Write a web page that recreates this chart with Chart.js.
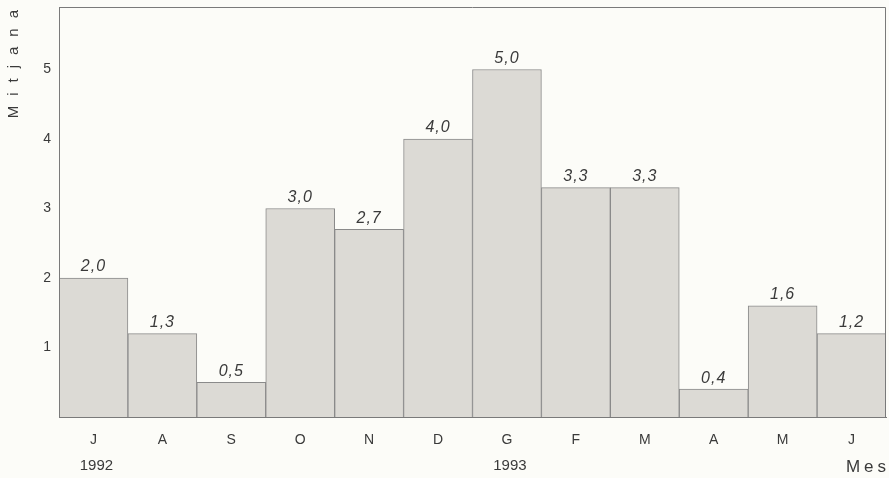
<!DOCTYPE html>
<html><head><meta charset="utf-8">
<script src="https://cdn.jsdelivr.net/npm/chart.js@4/dist/chart.umd.min.js"></script>
<style>html,body{margin:0;padding:0;background:#fcfcf8;}#wrap{width:889px;height:478px;}</style>
</head><body><div id="wrap"><canvas id="c" width="889" height="478"></canvas></div>
<script>
const months = ["J","A","S","O","N","D","G","F","M","A","M","J"];
const years = ["1992","","","","","","1993","","","","",""];
const values = [2.0,1.2,0.5,3.0,2.7,4.0,5.0,3.3,3.3,0.4,1.6,1.2];
const valueLabels = ["2,0","1,3","0,5","3,0","2,7","4,0","5,0","3,3","3,3","0,4","1,6","1,2"];
const yTicks = [1,2,3,4,5];
const yTitle = "Mitjana";
const xTitle = "Mes";

const ink = '#3a3a3a';
const FAM = '"Liberation Sans", Arial, sans-serif';
const extras = {
  id:'extras',
  afterDatasetsDraw(chart){
    const ctx = chart.ctx, a = chart.chartArea;
    const meta = chart.getDatasetMeta(0);
    ctx.save();
    ctx.strokeStyle = '#7a7a7a'; ctx.lineWidth = 1;
    ctx.beginPath();
    ctx.moveTo(a.left+0.5, a.bottom); ctx.lineTo(a.left+0.5, a.top+0.5);
    ctx.lineTo(a.right-0.5, a.top+0.5); ctx.lineTo(a.right-0.5, a.bottom);
    ctx.stroke();
    ctx.fillStyle = ink;
    ctx.font = 'italic 16px ' + FAM;
    ctx.letterSpacing = '1px';
    ctx.textAlign = 'center'; ctx.textBaseline = 'bottom';
    meta.data.forEach((bar,i)=>{ ctx.fillText(valueLabels[i], bar.x, bar.y-3); });
    const xs = chart.scales.x;
    ctx.font = '15px ' + FAM;
    ctx.letterSpacing = '0px';
    ctx.textBaseline = 'middle';
    years.forEach((yr,i)=>{ if(yr) ctx.fillText(yr, xs.getPixelForValue(i) + 3, 466); });
    ctx.font = '17px ' + FAM;
    ctx.letterSpacing = '4px';
    ctx.textAlign = 'right';
    ctx.fillText(xTitle, a.right+4, 467);
    // y title, rotated
    ctx.translate(14, a.top + 3);
    ctx.rotate(-Math.PI/2);
    ctx.font = '15px ' + FAM;
    ctx.letterSpacing = '10px';
    ctx.textAlign = 'right';
    ctx.textBaseline = 'middle';
    ctx.fillText(yTitle, 10, 0);
    ctx.restore();
  }
};

new Chart(document.getElementById('c'), {
  type:'bar',
  data:{ labels: months, datasets:[{ data: values, backgroundColor:'#dcdad5', borderColor:'#8a8a8a', borderWidth:1, categoryPercentage:1, barPercentage:1 }]},
  options:{
    responsive:false, animation:false,
    layout:{ padding:{ top:7, right:3, left:0, bottom:0 } },
    plugins:{ legend:{display:false}, tooltip:{enabled:false} },
    scales:{
      x:{ grid:{display:false}, border:{color:'#7a7a7a'},
          ticks:{ color:ink, font:{size:14, family:FAM}, padding:7 },
          afterFit(s){ s.height = 61; s.paddingLeft = 0; s.paddingRight = 0; } },
      y:{ min:0, max:5.9, grid:{display:false}, border:{color:'#7a7a7a'},
          afterBuildTicks(s){ s.ticks = yTicks.map(v=>({value:v})); },
          ticks:{ color:ink, font:{size:14, family:FAM}, padding:0 },
          afterFit(s){ s.width = 59; s.paddingTop = 0; s.paddingBottom = 0; } }
    }
  },
  plugins:[extras]
});
</script></body></html>
